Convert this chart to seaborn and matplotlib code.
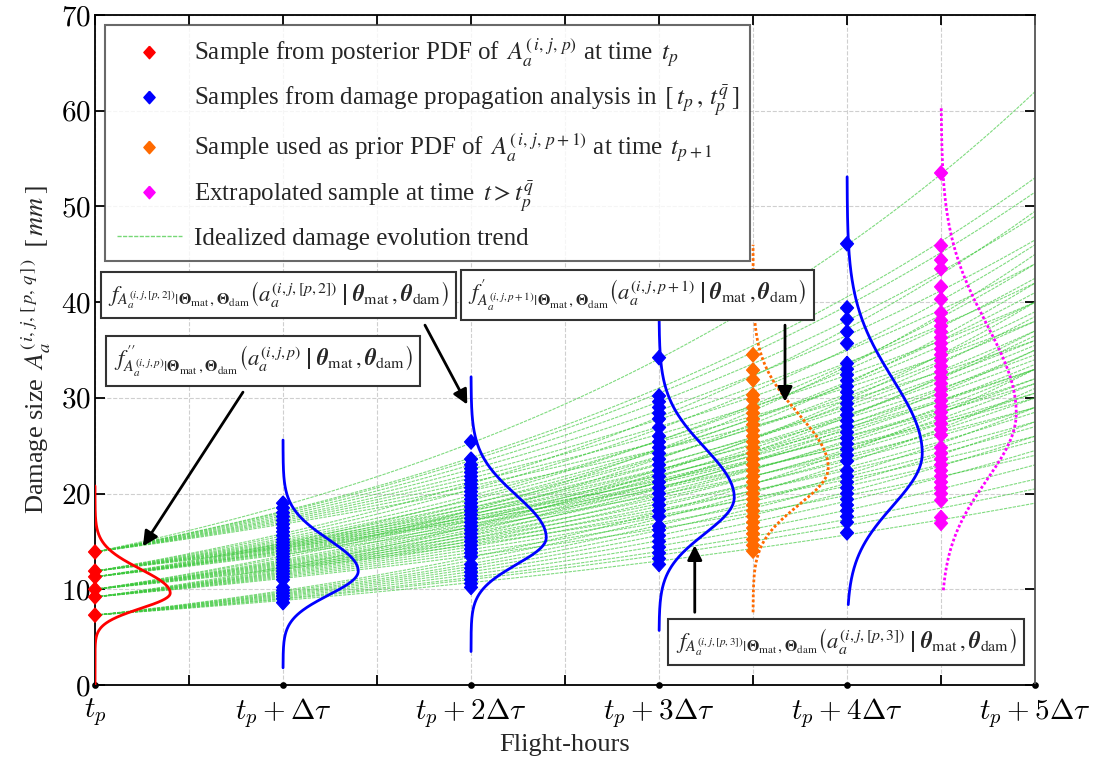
import numpy as np
import pandas as pd
import matplotlib
matplotlib.use("Agg")
import matplotlib.pyplot as plt
import seaborn as sns
from matplotlib.lines import Line2D

# ---------------- data ----------------
x_tick_pos = [0, 1, 2, 3, 4, 5]
x_tick_labels = [r"$t_p$", r"$t_p+\Delta\tau$", r"$t_p+2\Delta\tau$",
                 r"$t_p+3\Delta\tau$", r"$t_p+4\Delta\tau$", r"$t_p+5\Delta\tau$"]
y_tick_pos = [0, 10, 20, 30, 40, 50, 60, 70]

# idealized trend lines: value at t_p and value at t_p + 5 dtau
trend_start = ([7.3] * 10 + [9.2] * 10 + [10.0] * 11 + [11.3] * 10 + [11.9] * 10 + [13.9] * 10)
trend_end = [19.0, 20.5, 21.5, 23.0, 24.5, 26.0, 27.5, 29.0, 31.0, 33.0,
             24.0, 25.5, 27.0, 28.5, 30.0, 31.5, 33.0, 35.0, 37.0, 40.0,
             26.0, 27.5, 29.0, 30.5, 32.0, 33.5, 35.0, 36.5, 38.5, 42.0, 45.0,
             29.0, 30.5, 32.0, 33.0, 34.0, 35.5, 37.0, 39.0, 41.0, 44.0,
             30.0, 31.5, 33.0, 34.5, 36.0, 38.0, 40.0, 42.5, 46.0, 49.5,
             36.0, 38.0, 40.0, 42.0, 44.0, 46.5, 49.0, 51.5, 53.0, 62.0]

# samples
posterior_t0 = [7.3, 9.2, 10.0, 11.3, 11.9, 13.9]
prop_t1 = [8.6, 9.0, 9.3, 9.6, 9.9, 10.2, 11.0, 11.3, 11.6, 11.9, 12.2, 12.5, 12.8, 13.1,
           13.4, 13.7, 14.0, 14.3, 14.6, 14.9, 15.2, 15.6, 16.0, 16.4, 16.8, 17.2, 17.6,
           18.0, 18.5, 19.0]
prop_t2 = [10.2, 10.6, 11.0, 11.4, 11.8, 12.2, 12.6, 13.4, 13.8, 14.2, 14.6, 15.0, 15.4,
           15.8, 16.2, 16.6, 17.0, 17.4, 17.8, 18.2, 18.6, 19.0, 19.4, 19.8, 20.2, 20.6,
           21.0, 21.4, 21.8, 22.2, 22.6, 23.0, 23.6, 25.4]
prop_t3 = [12.6, 13.2, 13.8, 14.4, 15.0, 15.6, 16.2, 16.6, 17.6, 18.2, 18.8, 19.4, 20.0,
           20.6, 21.2, 21.8, 22.4, 23.0, 23.6, 24.2, 24.8, 25.4, 26.0, 26.9, 27.8, 28.4,
           29.0, 29.6, 30.2, 34.2]
prior_t35 = [14.0, 14.6, 15.2, 15.8, 16.4, 17.0, 17.6, 18.2, 18.8, 19.4, 20.0, 20.6, 21.2,
             21.8, 22.4, 23.0, 23.6, 24.2, 24.8, 25.4, 26.0, 26.6, 27.2, 27.8, 28.4, 29.0,
             29.8, 30.3, 31.9, 32.9, 34.5]
prop_t4 = [15.9, 17.0, 17.6, 18.2, 18.8, 19.4, 20.0, 20.6, 21.2, 21.8, 22.4, 23.4, 24.0,
           24.6, 25.2, 25.8, 26.4, 27.0, 27.6, 28.2, 28.8, 29.4, 30.0, 30.6, 31.2, 31.8,
           32.4, 33.0, 33.6, 35.7, 36.9, 38.2, 39.4, 46.1]
extrap_t45 = [16.9, 17.5, 19.3, 20.0, 20.6, 21.2, 21.8, 22.4, 23.0, 23.6, 24.2, 24.8, 26.1,
              26.7, 27.3, 27.9, 28.5, 29.1, 29.7, 30.3, 30.9, 31.5, 32.1, 32.7, 33.3, 33.9,
              34.5, 35.1, 35.7, 36.3, 36.9, 37.5, 38.1, 38.9, 40.3, 41.6, 43.5, 44.4, 45.9,
              53.5]

# PDF curves (time, mode, lower/upper spread, vertical extent)
pdf_time = [0.0, 1.0, 2.0, 3.0, 3.5, 4.0, 4.5]
pdf_mode = [9.6, 11.9, 15.4, 19.6, 22.7, 24.2, 28.4]
pdf_sig_lo = [1.6, 2.5, 2.8, 3.8, 3.9, 5.5, 7.0]
pdf_sig_hi = [2.5, 3.3, 4.4, 5.2, 5.6, 7.8, 9.3]
pdf_ymin = [0.0, 1.8, 3.5, 5.7, 7.6, 8.4, 9.9]
pdf_ymax = [20.8, 25.6, 32.2, 40.0, 46.0, 53.1, 60.5]
pdf_kind = ["posterior", "prop", "prop", "prop", "prior", "prop", "extrap"]

# ---------------- style ----------------
sns.set_theme(style="ticks")
plt.rcParams["font.family"] = ["Liberation Serif", "DejaVu Serif"]
plt.rcParams["mathtext.fontset"] = "stix"

colors = {"posterior": "#ff0000", "prop": "#0000ff", "prior": "#ff6a00", "extrap": "#ff00ff"}
green = "#3cc83c"

fig = plt.figure(figsize=(11.01, 7.57), dpi=100)
ax = fig.add_axes([0.0863, 0.0951, 0.8538, 0.885])

# trend lines
t_grid = np.linspace(0, 5, 101)
rows = []
for i, (a0, a5) in enumerate(zip(trend_start, trend_end)):
    for t in t_grid:
        rows.append((i, t, a0 * (a5 / a0) ** (t / 5.0)))
df_lines = pd.DataFrame(rows, columns=["line", "t", "size"])
sns.lineplot(data=df_lines, x="t", y="size", units="line", estimator=None,
             color=green, lw=0.8, alpha=0.65, linestyle=(0, (3, 1)), ax=ax,
             legend=False, zorder=2)

# pdf curves
for t0, m, slo, shi, y0, y1, kind in zip(pdf_time, pdf_mode, pdf_sig_lo, pdf_sig_hi,
                                           pdf_ymin, pdf_ymax, pdf_kind):
    yy = np.linspace(y0, y1, 400)
    sig = np.where(yy < m, slo, shi)
    dens = np.exp(-0.5 * ((yy - m) / sig) ** 2)
    ls = "-" if kind in ("posterior", "prop") else (0, (1, 0.8))
    ax.plot(t0 + 0.4 * dens, yy, color=colors[kind], lw=2.0, linestyle=ls, zorder=3)

# samples
sample_sets = [(0.0, posterior_t0, "posterior"), (1.0, prop_t1, "prop"), (2.0, prop_t2, "prop"),
               (3.0, prop_t3, "prop"), (3.5, prior_t35, "prior"), (4.0, prop_t4, "prop"),
               (4.5, extrap_t45, "extrap")]
srows = []
for t0, vals, kind in sample_sets:
    for v in vals:
        srows.append((t0, v, kind))
df_s = pd.DataFrame(srows, columns=["t", "size", "kind"])
diamond = [(0, 1), (0.9, 0), (0, -1), (-0.9, 0), (0, 1)]
sns.scatterplot(data=df_s, x="t", y="size", hue="kind", palette=colors, marker=diamond,
                s=110, linewidth=0.8, legend=False, ax=ax, zorder=4)
for coll in ax.collections:
    coll.set_edgecolor(coll.get_facecolor())
    coll.set_clip_on(False)

# axes
ax.set_xlim(0, 5)
ax.set_ylim(0, 70)
ax.set_xticks(x_tick_pos)
ax.set_xticks(np.arange(0.5, 5, 1.0), minor=True)
ax.set_xticklabels(x_tick_labels, fontsize=21, math_fontfamily="cm")
ax.set_yticks(y_tick_pos)
ax.set_yticklabels([f"${v}$" for v in y_tick_pos], fontsize=21, math_fontfamily="cm")
ax.tick_params(which="both", direction="in", top=True, right=True, length=7, width=1.3,
               colors="black")
ax.tick_params(axis="x", which="major", pad=8)
ax.tick_params(axis="y", which="major", pad=3)
for tk in ax.xaxis.get_major_ticks():
    tk.tick1line.set_marker("o")
    tk.tick1line.set_markersize(3.5)
ax.grid(which="both", axis="x", color="#cfcfcf", linestyle="--", lw=0.8)
ax.grid(which="major", axis="y", color="#cfcfcf", linestyle="--", lw=0.8)
for sp in ax.spines.values():
    sp.set_color("black")
    sp.set_linewidth(1.3)
ax.spines["right"].set_color("#555555")

ax.set_xlabel("Flight-hours", fontsize=19, labelpad=3)
ax.set_ylabel(r"Damage size $\,A_a^{(\,i,\,j,\,[\,p,\,q\,]\,)}\;\;[\,mm\,]$", fontsize=19,
              labelpad=6)

# legend
handles = [
    Line2D([], [], ls="none", marker=diamond, color=colors["posterior"], markersize=9),
    Line2D([], [], ls="none", marker=diamond, color=colors["prop"], markersize=9),
    Line2D([], [], ls="none", marker=diamond, color=colors["prior"], markersize=9),
    Line2D([], [], ls="none", marker=diamond, color=colors["extrap"], markersize=9),
    Line2D([], [], color=green, lw=1.0, alpha=0.7, linestyle=(0, (3, 1))),
]
labels = [
    r"Sample from posterior PDF of $\,A_a^{(\,i,\,j,\,p)}$ at time $\,t_p$",
    r"Samples from damage propagation analysis in $\,[\,t_p\,,\,t_p^{\bar{q}}\,]$",
    r"Sample used as prior PDF of $\,A_a^{(\,i,\,j,\,p+1)}$ at time $\,t_{p+1}$",
    r"Extrapolated sample at time $\,t > t_p^{\bar{q}}$",
    "Idealized damage evolution trend",
]
leg = ax.legend(handles, labels, loc="upper left", bbox_to_anchor=(0.011, 0.985),
                borderaxespad=0, fontsize=18, frameon=True, fancybox=False,
                labelspacing=0.55, handlelength=2.6, handletextpad=0.5, borderpad=0.45)
leg.get_frame().set_edgecolor("#444444")
leg.get_frame().set_linewidth(1.5)
leg.set_zorder(10)

# annotation boxes
box = dict(boxstyle="square,pad=0.32", fc="white", ec="#333333", lw=1.5)
th = r"\left|\;\boldsymbol{\theta}_{\mathrm{mat}}\,,\boldsymbol{\theta}_{\mathrm{dam}}\right.\right)"
TH = r"\boldsymbol{\Theta}_{\mathrm{mat}}\,,\boldsymbol{\Theta}_{\mathrm{dam}}"
txt1 = r"$f_{A_a^{(i,j,[p,2])}|" + TH + r"}\left(a_a^{(i,j,[p,2])}\;" + th + "$"
txt2 = r"$f^{\prime\prime}_{A_a^{(i,j,p)}|" + TH + r"}\left(a_a^{(i,j,p)}\;" + th + "$"
txt3 = r"$f^{\prime}_{A_a^{(i,j,p+1)}|" + TH + r"}\left(a_a^{(i,j,p+1)}\;" + th + "$"
txt4 = r"$f_{A_a^{(i,j,[p,3])}|" + TH + r"}\left(a_a^{(i,j,[p,3])}\;" + th + "$"
for (bx, by, s) in [(0.975, 40.75, txt1), (0.894, 33.85, txt2), (2.885, 40.75, txt3),
                    (3.995, 4.5, txt4)]:
    ax.text(bx, by, s, ha="center", va="center", fontsize=16.3, bbox=box, zorder=8)

arrow = dict(arrowstyle="-|>", color="black", lw=2.0, mutation_scale=22,
             shrinkA=0, shrinkB=0)
for start, end in [((0.787, 30.6), (0.255, 14.5)), ((1.755, 37.6), (1.98, 29.3)),
                   ((3.67, 37.6), (3.67, 29.6)), ((3.19, 7.6), (3.19, 14.6))]:
    ax.annotate("", xy=end, xytext=start, arrowprops=arrow, zorder=7)

fig.savefig("out.png", dpi=100)
